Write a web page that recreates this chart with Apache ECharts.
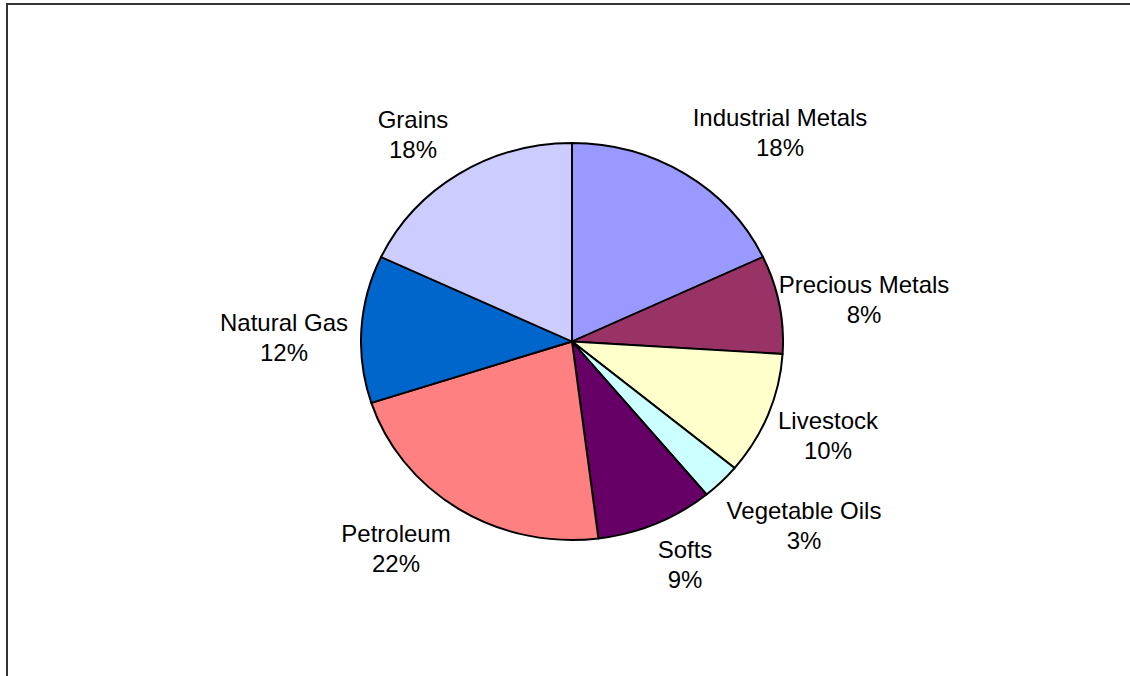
<!DOCTYPE html>
<html>
<head>
<meta charset="utf-8">
<script src="https://cdn.jsdelivr.net/npm/echarts@6/dist/echarts.min.js"></script>
<style>
  html, body { margin: 0; padding: 0; background: #ffffff; }
  .layer { position: absolute; left: 0; top: 0; width: 1130px; height: 676px; }
  /* the pie is slightly flattened vertically */
  #pie { transform-origin: 572px 341.5px; transform: scaleY(0.9408); }
</style>
</head>
<body>
<div id="pie" class="layer"></div>
<div id="labels" class="layer"></div>
<script>
// Commodity sectors, clockwise from 12 o'clock
const categories = ['Industrial Metals', 'Precious Metals', 'Livestock', 'Vegetable Oils', 'Softs', 'Petroleum', 'Natural Gas', 'Grains'];
const weights = [18, 8, 10, 3, 9, 22, 12, 18];
const sliceColors = ['#9999FF', '#993366', '#FFFFCC', '#CCFFFF', '#660066', '#FF8080', '#0066CC', '#CCCCFF'];
// label block centres (px) for each sector
const labelPos = [[780, 132], [864, 299], [828, 435], [804, 525], [685, 564], [396, 548], [284, 337], [413, 134]];

const pieData = categories.map((name, i) => ({ name: name, value: weights[i] }));

const CENTER = [572, 341.5];
const RADIUS = 211;

const pieChart = echarts.init(document.getElementById('pie'), null, { renderer: 'svg' });
pieChart.setOption({
  animation: false,
  series: [{
    type: 'pie',
    center: CENTER,
    radius: RADIUS,
    startAngle: 90,
    clockwise: true,
    silent: true,
    label: { show: false },
    labelLine: { show: false },
    itemStyle: {
      color: (p) => sliceColors[p.dataIndex],
      borderColor: '#000000',
      borderWidth: 2
    },
    data: pieData
  }]
});

const labelChart = echarts.init(document.getElementById('labels'), null, { renderer: 'svg' });
labelChart.setOption({
  animation: false,
  graphic: [{
    type: 'rect',
    shape: { x: 7, y: 4, width: 1300, height: 900 },
    style: { fill: 'none', stroke: '#333333', lineWidth: 2 },
    silent: true
  }],
  series: [{
    type: 'pie',
    center: CENTER,
    radius: RADIUS,
    startAngle: 90,
    clockwise: true,
    silent: true,
    itemStyle: { color: 'rgba(0,0,0,0)', borderWidth: 0 },
    labelLine: { show: false },
    label: {
      show: true,
      position: 'outside',
      formatter: (p) => p.name + '\n' + p.value + '%',
      fontFamily: '"Liberation Sans", Arial, sans-serif',
      fontSize: 24,
      lineHeight: 30,
      color: '#000000',
      align: 'center'
    },
    labelLayout: (p) => ({
      x: labelPos[p.dataIndex][0],
      y: labelPos[p.dataIndex][1],
      align: 'center',
      verticalAlign: 'middle'
    }),
    data: pieData
  }]
});
</script>
</body>
</html>
